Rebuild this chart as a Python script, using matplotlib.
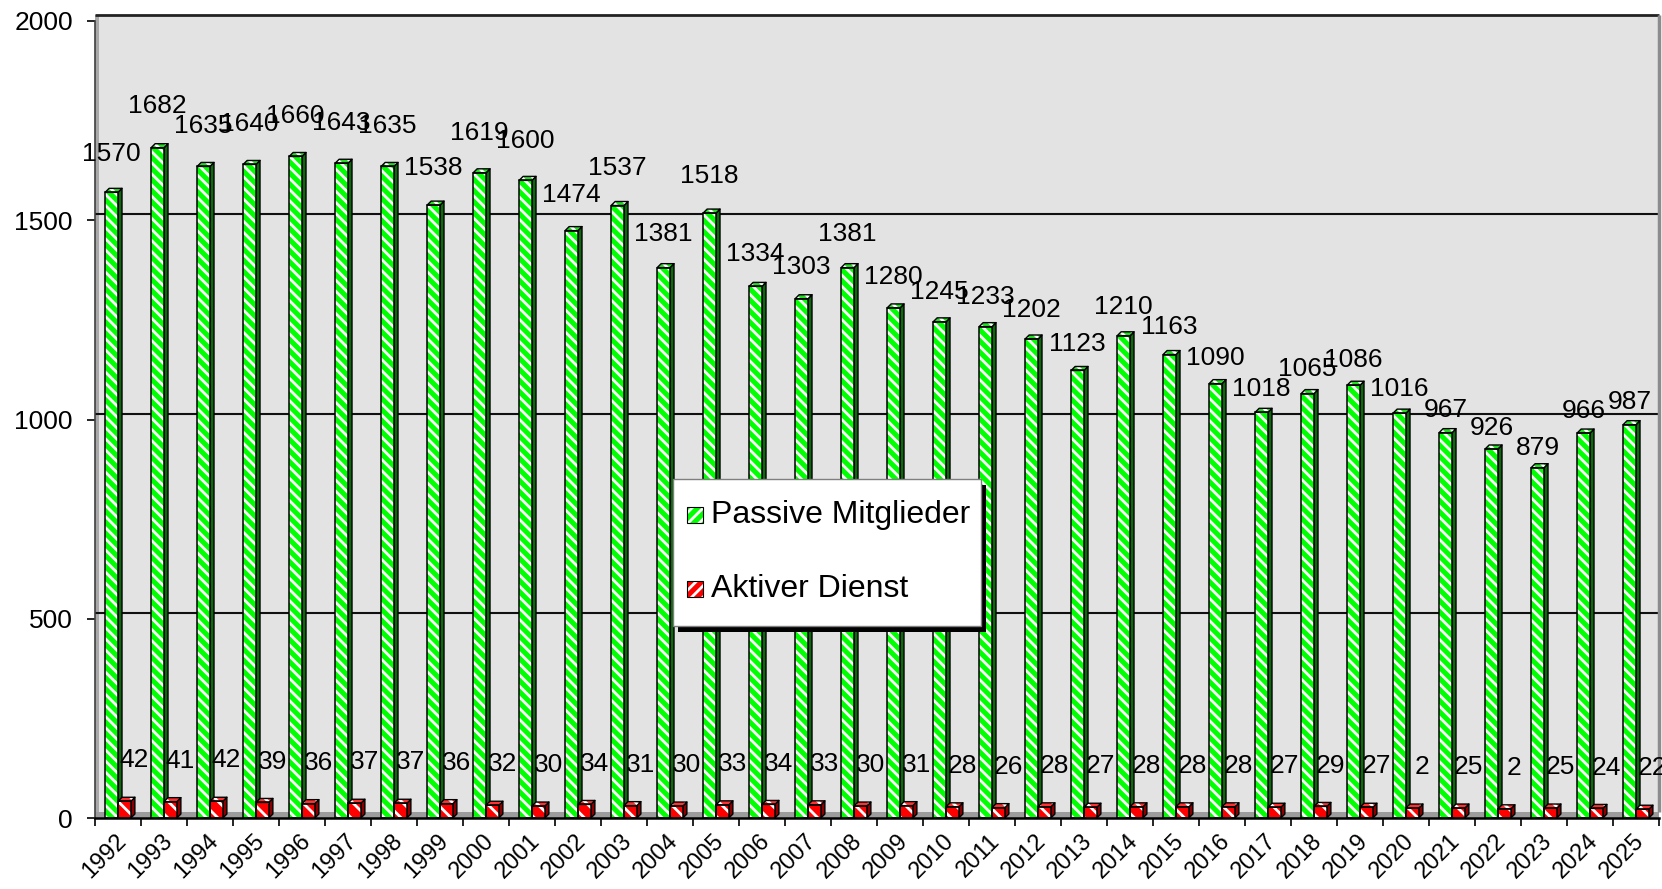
import matplotlib
matplotlib.use('Agg')
import matplotlib.pyplot as plt
import matplotlib.transforms as mtransforms
from matplotlib.patches import Rectangle
from matplotlib.collections import PolyCollection
import numpy as np

plt.rcParams['font.family'] = ['Liberation Sans', 'DejaVu Sans']
plt.rcParams['hatch.linewidth'] = 2.0

# ---------------- data ----------------
years = ['1992', '1993', '1994', '1995', '1996', '1997', '1998', '1999', '2000',
         '2001', '2002', '2003', '2004', '2005', '2006', '2007', '2008', '2009',
         '2010', '2011', '2012', '2013', '2014', '2015', '2016', '2017', '2018',
         '2019', '2020', '2021', '2022', '2023', '2024', '2025']
passive = [1570, 1682, 1635, 1640, 1660, 1643, 1635, 1538, 1619, 1600, 1474, 1537,
           1381, 1518, 1334, 1303, 1381, 1280, 1245, 1233, 1202, 1123, 1210, 1163,
           1090, 1018, 1065, 1086, 1016, 967, 926, 879, 966, 987]
aktiv = [42, 41, 42, 39, 36, 37, 37, 36, 32, 30, 34, 31, 30, 33, 34, 33, 30, 31,
         28, 26, 28, 27, 28, 28, 28, 27, 29, 27, 25, 25, 23, 25, 24, 22]
passive_labels = [str(v) for v in passive]
aktiv_labels = ['42', '41', '42', '39', '36', '37', '37', '36', '32', '30', '34', '31',
                '30', '33', '34', '33', '30', '31', '28', '26', '28', '27', '28', '28',
                '28', '27', '29', '27', '2', '25', '2', '25', '24', '22']
series_names = ['Passive Mitglieder', 'Aktiver Dienst']
y_ticks = [0, 500, 1000, 1500, 2000]

# ---------------- layout ----------------
W, H = 1662, 889
fig = plt.figure(figsize=(W / 100, H / 100), dpi=100)
X0, X1 = 95, 1659      # front plot area, pixels
Y0, Y1 = 818, 21       # value 0 / value 2000, pixels
ax = fig.add_axes([X0 / W, 1 - Y0 / H, (X1 - X0) / W, (Y0 - Y1) / H])
n = len(years)
ax.set_xlim(-0.5, n - 0.5)
ax.set_ylim(0, 2000)
ax.set_facecolor('none')

def fx(x):
    return x / W

def fy(y):
    return 1 - y / H

depth_px = 6
back = mtransforms.ScaledTranslation(0, depth_px / 100, fig.dpi_scale_trans)

# back wall
ax.add_patch(Rectangle((0, 0), 1, 1, transform=ax.transAxes + back,
                       facecolor='#E3E3E3', edgecolor='none', zorder=0, clip_on=False))
# floor band
ax.add_patch(Rectangle((0, 0), 1, depth_px / (Y0 - Y1), transform=ax.transAxes,
                       facecolor='#9C9C9C', edgecolor='none', zorder=0.5, clip_on=False))
# left wall band
ax.add_patch(Rectangle((0, 0), 4 / (X1 - X0), 1, transform=ax.transAxes + back,
                       facecolor='#A8A8A8', edgecolor='none', zorder=0.6, clip_on=False))
# gridlines on back wall
ax.hlines(y_ticks[1:-1], -0.5, n - 0.5, colors='#111111', lw=1.5,
          transform=ax.transData + back, zorder=1, clip_on=False)
# top border of wall
ax.hlines([2000], -0.5, n - 0.5, colors='#222222', lw=2.0,
          transform=ax.transData + back, zorder=1, clip_on=False)
# right edge of wall
ax.vlines([n - 0.5], 0, 2000, colors='#8C8C8C', lw=2.5,
          transform=ax.transData + back, zorder=1, clip_on=False)

for s in ['top', 'right']:
    ax.spines[s].set_visible(False)
ax.spines['bottom'].set_linewidth(1.8)
ax.spines['bottom'].set_color('black')
ax.spines['left'].set_linewidth(1.2)
ax.spines['left'].set_color('#404040')
for s in ['bottom', 'left']:
    ax.spines[s].set_zorder(5)

# ticks
x = np.arange(n)
ax.set_xticks(np.arange(n + 1) - 0.5)
ax.set_xticklabels([])
ax.tick_params(axis='x', direction='out', length=6, width=1.2, color='black')
ax.set_yticks(y_ticks)
ax.set_yticklabels([str(t) for t in y_ticks], fontsize=19)
ax.tick_params(axis='y', direction='out', length=6, width=1.2, color='black', pad=10)

# ---------------- bars ----------------
w = 0.28
gx = x - 0.14
rx = x + 0.14
px_x = (X1 - X0) / n
px_y = (Y0 - Y1) / 2000
ddx = 4 / px_x
ddy = 4 / px_y

def draw_bars(xc, vals, face, side, top, hatch):
    vals = np.asarray(vals, dtype=float)
    xl = xc - w / 2
    xr = xc + w / 2
    sides = [[(r, 0), (r + ddx, ddy), (r + ddx, v + ddy), (r, v)] for r, v in zip(xr, vals)]
    tops = [[(l, v), (r, v), (r + ddx, v + ddy), (l + ddx, v + ddy)]
            for l, r, v in zip(xl, xr, vals)]
    ax.add_collection(PolyCollection(sides, facecolors=side, edgecolors='black',
                                     linewidths=1.0, zorder=2))
    ax.bar(xc, vals, width=w, color=face, edgecolor='white', hatch=hatch,
           linewidth=0, zorder=3)
    ax.add_collection(PolyCollection(tops, facecolors=top, edgecolors='white', hatch=hatch,
                                     linewidths=0, zorder=3.5))
    ax.bar(xc, vals, width=w, fill=False, edgecolor='black', linewidth=1.1, zorder=4)
    ax.add_collection(PolyCollection(tops, facecolors='none', edgecolors='black',
                                     linewidths=1.0, zorder=4))

draw_bars(gx, passive, '#00FF00', '#0B6B0B', '#22DD22', '\\\\\\')
draw_bars(rx, aktiv, '#FF0000', '#8A0000', '#FF3030', '\\\\')

# ---------------- labels ----------------
for xi, v, t in zip(gx, passive, passive_labels):
    ax.annotate(t, (xi, v * 1.066), xytext=(0, -10), textcoords='offset pixels',
                ha='center', va='baseline', fontsize=19, zorder=6, annotation_clip=False)
for xi, v, t in zip(rx, aktiv, aktiv_labels):
    ax.annotate(t, (xi, v + 110), xytext=(10, -10), textcoords='offset pixels',
                ha='center', va='baseline', fontsize=19, zorder=6, annotation_clip=False)
for xi, t in zip(x, years):
    ax.annotate(t, (xi, 0), xycoords=('data', 'axes fraction'), xytext=(-3, -12),
                textcoords='offset pixels', rotation=45, rotation_mode='anchor',
                ha='right', va='top', fontsize=17, annotation_clip=False)

# ---------------- legend ----------------
lx0, ly0, lx1, ly1 = 673, 479, 981, 626
fig.add_artist(Rectangle((fx(lx0 + 5), fy(ly1 + 6)), (lx1 - lx0) / W, (ly1 - ly0) / H,
                         transform=fig.transFigure, facecolor='black', edgecolor='none',
                         zorder=9))
fig.add_artist(Rectangle((fx(lx0), fy(ly1)), (lx1 - lx0) / W, (ly1 - ly0) / H,
                         transform=fig.transFigure, facecolor='white', edgecolor='#7F7F7F',
                         lw=1.0, zorder=10))
sw_specs = [(507, 523, '#00FF00', 515), (581, 597, '#FF0000', 589)]
for (sy0, sy1, col, ty), name in zip(sw_specs, series_names):
    fig.add_artist(Rectangle((fx(687), fy(sy1)), 16 / W, (sy1 - sy0) / H,
                             transform=fig.transFigure, facecolor=col, edgecolor='white',
                             hatch='///', lw=0, zorder=11))
    fig.add_artist(Rectangle((fx(687), fy(sy1)), 16 / W, (sy1 - sy0) / H,
                             transform=fig.transFigure, facecolor='none', edgecolor='black',
                             lw=0.8, zorder=12))
    fig.text(fx(711), fy(ty), name, ha='left', va='center', fontsize=23, zorder=12)

fig.savefig('out.png', dpi=100)
